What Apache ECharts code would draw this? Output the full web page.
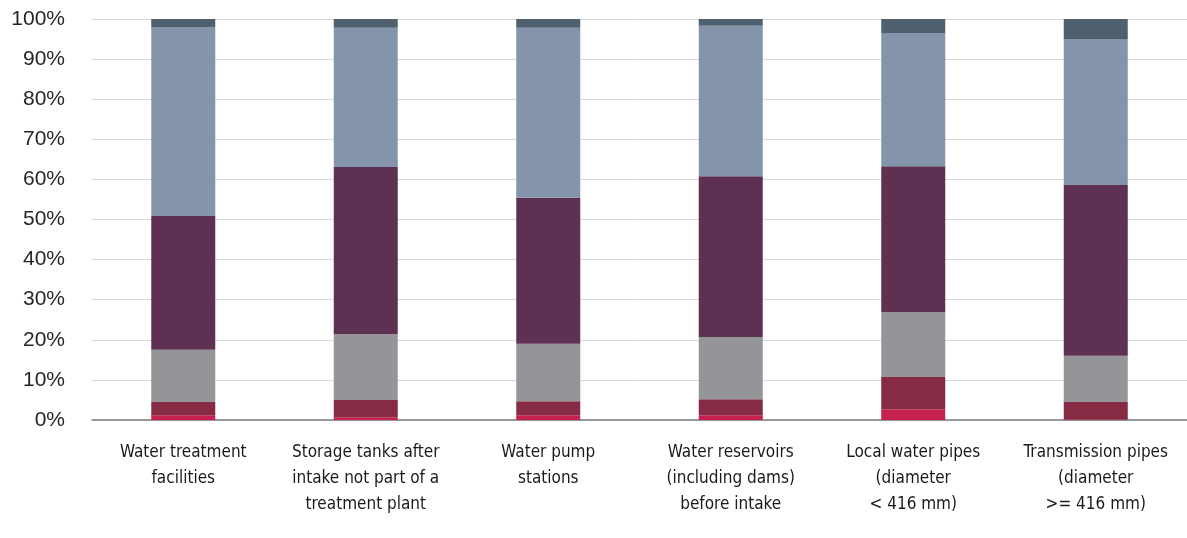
<!DOCTYPE html>
<html>
<head>
<meta charset="utf-8">
<script src="https://cdn.jsdelivr.net/npm/echarts@6/dist/echarts.min.js"></script>
<style>
  html, body { margin: 0; padding: 0; background: #fff; }
  #chart { width: 1187px; height: 538px; }
</style>
</head>
<body>
<div id="chart"></div>
<script>
const categories = [
  'Water treatment\nfacilities',
  'Storage tanks after\nintake not part of a\ntreatment plant',
  'Water pump\nstations',
  'Water reservoirs\n(including dams)\nbefore intake',
  'Local water pipes\n(diameter\n< 416 mm)',
  'Transmission pipes\n(diameter\n>= 416 mm)',
]

// stacked shares, bottom to top (percent)
const seriesA = [1.2, 0.7, 1.2, 1.2, 2.7, 0.1]
const seriesB = [3.3, 4.3, 3.5, 4.0, 8.0, 4.4]
const seriesC = [13.0, 16.4, 14.3, 15.5, 16.2, 11.5]
const seriesD = [33.4, 41.7, 36.4, 40.1, 36.4, 42.6]
const seriesE = [47.1, 34.7, 42.4, 37.5, 33.2, 36.4]
const seriesF = [2.0, 2.2, 2.2, 1.7, 3.5, 5.0]

const colors = ['#c7214f', '#862b44', '#939598', '#5e3052', '#8494aa', '#4f606e']
const stacks = [seriesA, seriesB, seriesC, seriesD, seriesE, seriesF]

const chart = echarts.init(document.getElementById('chart'))

chart.setOption({
  animation: false,
  grid: { left: 92, right: -9, top: 19, bottom: 118 },
  xAxis: {
    type: 'category',
    data: categories,
    axisLine: { lineStyle: { color: '#7f7f7f', width: 1.5 } },
    axisTick: { show: false },
    axisLabel: {
      interval: 0,
      margin: 20,
      color: '#1a1a1a',
      fontFamily: '"Liberation Sans Narrow", "DejaVu Sans Condensed", sans-serif',
      fontSize: 17,
      lineHeight: 26,
    },
  },
  yAxis: {
    type: 'value',
    min: 0,
    max: 100,
    interval: 10,
    axisLine: { show: false },
    axisTick: { show: false },
    splitLine: { lineStyle: { color: '#d9d9d9', width: 1 } },
    axisLabel: {
      margin: 27,
      color: '#262626',
      fontFamily: '"Liberation Sans", Arial, sans-serif',
      fontSize: 21,
      formatter: '{value}%',
    },
  },
  series: stacks.map((d, i) => ({
    type: 'bar',
    stack: 'total',
    barWidth: 64,
    data: d,
    itemStyle: { color: colors[i] },
  })),
})
</script>
</body>
</html>
